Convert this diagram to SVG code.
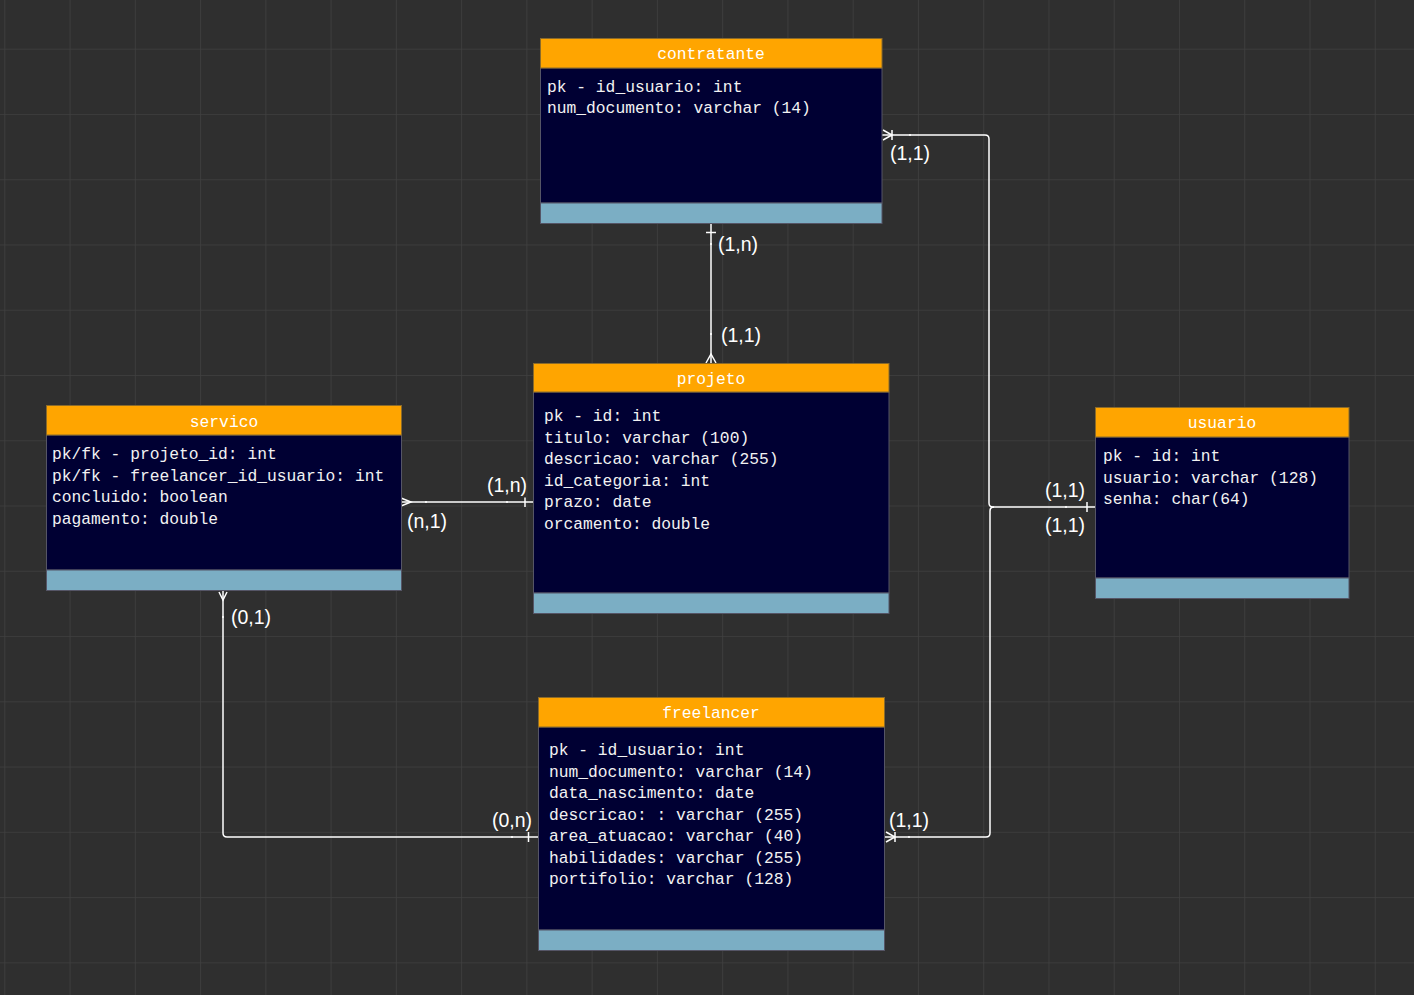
<svg xmlns="http://www.w3.org/2000/svg" width="1414" height="995" viewBox="0 0 1414 995">
<defs>
<pattern id="grid" x="4.3" y="48.7" width="65.26" height="65.26" patternUnits="userSpaceOnUse">
<path d="M0 0 H65.26 M0 0 V65.26" stroke="#404040" stroke-width="1.6" fill="none"/>
</pattern>
</defs>
<style>
.hd{fill:#FFA500;stroke:#8a6a2a;stroke-width:1}
.bd{fill:#000033;stroke:#555566;stroke-width:1}
.ft{fill:#7BAEC4;stroke:#555566;stroke-width:1}
.tt{font-family:"Liberation Mono","DejaVu Sans Mono",monospace;font-size:16.3px;fill:#ffffff;text-anchor:middle}
.at{font-family:"Liberation Mono","DejaVu Sans Mono",monospace;font-size:16.3px;fill:#f2f2f2}
.ln{fill:none;stroke:#ffffff;stroke-width:1.5}
.lb{font-family:"Liberation Sans","Noto Sans",sans-serif;font-size:19.5px;fill:#ffffff}
.dot{fill:#ffffff}
</style>
<rect width="1414" height="995" fill="#2f2f2f"/>
<rect width="1414" height="995" fill="url(#grid)"/>

<g id="connectors">
<!-- contratante - usuario -->
<path class="ln" d="M882 135 H985 Q989 135 989 139 V503 Q989 507 993 507 H1095"/>
<path class="ln" d="M883 130 L892 135 L883 140 M892 130 V140"/>
<rect class="dot" x="909" y="134.2" width="2" height="1.6"/>
<!-- freelancer - usuario -->
<path class="ln" d="M885 837 H986 Q990 837 990 833 V511 Q990 507 994 507"/>
<path class="ln" d="M886 832 L895 837 L886 842 M895 832 V842"/>
<rect class="dot" x="908" y="836.2" width="2" height="1.6"/>
<path class="ln" d="M1087 502 V512"/>
<rect class="dot" x="1065" y="506.2" width="2" height="1.6"/>
<!-- contratante - projeto -->
<path class="ln" d="M711 223 V363"/>
<path class="ln" d="M706 232.5 H716"/>
<path class="ln" d="M706 363 L711 354 L716 363"/>
<rect class="dot" x="710.2" y="243" width="1.6" height="2"/>
<rect class="dot" x="710.2" y="333" width="1.6" height="2"/>
<!-- servico - projeto -->
<path class="ln" d="M401 502 H533"/>
<path class="ln" d="M401 498 L411 502 L401 506"/>
<path class="ln" d="M525 497.5 V507"/>
<rect class="dot" x="425" y="501.2" width="2" height="1.6"/>
<rect class="dot" x="506" y="501.2" width="2" height="1.6"/>
<!-- servico - freelancer -->
<path class="ln" d="M223 591 V833 Q223 837 227 837 H538"/>
<path class="ln" d="M219 592 L223 600 L227 592"/>
<path class="ln" d="M528.5 832 V842"/>
<rect class="dot" x="222.2" y="616" width="1.6" height="2"/>
<rect class="dot" x="511" y="836.2" width="2" height="1.6"/>
<!-- labels -->
<text class="lb" x="890" y="160">(1,1)</text>
<text class="lb" x="718" y="251">(1,n)</text>
<text class="lb" x="721" y="342">(1,1)</text>
<text class="lb" x="487" y="492">(1,n)</text>
<text class="lb" x="407" y="528">(n,1)</text>
<text class="lb" x="1045" y="497">(1,1)</text>
<text class="lb" x="1045" y="532">(1,1)</text>
<text class="lb" x="231" y="624">(0,1)</text>
<text class="lb" x="492" y="827">(0,n)</text>
<text class="lb" x="889" y="827">(1,1)</text>
</g>

<g id="contratante">
<rect class="bd" x="540.5" y="68" width="341.5" height="135"/>
<rect class="hd" x="540.5" y="38.5" width="341.5" height="29.5"/>
<rect class="ft" x="540.5" y="203" width="341.5" height="20.5"/>
<text class="tt" x="711" y="59">contratante</text>
<text class="at" x="547" y="92">pk - id_usuario: int</text>
<text class="at" x="547" y="113">num_documento: varchar (14)</text>
</g>

<g id="projeto">
<rect class="bd" x="533.5" y="392" width="355.5" height="201"/>
<rect class="hd" x="533.5" y="363.5" width="355.5" height="28.5"/>
<rect class="ft" x="533.5" y="593" width="355.5" height="20.5"/>
<text class="tt" x="711" y="384">projeto</text>
<text class="at" x="544" y="421">pk - id: int</text>
<text class="at" x="544" y="442.5">titulo: varchar (100)</text>
<text class="at" x="544" y="464">descricao: varchar (255)</text>
<text class="at" x="544" y="485.5">id_categoria: int</text>
<text class="at" x="544" y="507">prazo: date</text>
<text class="at" x="544" y="528.5">orcamento: double</text>
</g>

<g id="servico">
<rect class="bd" x="46.5" y="435" width="355" height="135"/>
<rect class="hd" x="46.5" y="405.5" width="355" height="29.5"/>
<rect class="ft" x="46.5" y="570" width="355" height="20.5"/>
<text class="tt" x="224" y="427">servico</text>
<text class="at" x="52" y="459">pk/fk - projeto_id: int</text>
<text class="at" x="52" y="480.5">pk/fk - freelancer_id_usuario: int</text>
<text class="at" x="52" y="502">concluido: boolean</text>
<text class="at" x="52" y="523.5">pagamento: double</text>
</g>

<g id="usuario">
<rect class="bd" x="1095.5" y="437" width="253.5" height="141"/>
<rect class="hd" x="1095.5" y="407.5" width="253.5" height="29.5"/>
<rect class="ft" x="1095.5" y="578" width="253.5" height="20.5"/>
<text class="tt" x="1222" y="428">usuario</text>
<text class="at" x="1103" y="461">pk - id: int</text>
<text class="at" x="1103" y="482.5">usuario: varchar (128)</text>
<text class="at" x="1103" y="504">senha: char(64)</text>
</g>

<g id="freelancer">
<rect class="bd" x="538.5" y="727" width="346" height="203"/>
<rect class="hd" x="538.5" y="697.5" width="346" height="29.5"/>
<rect class="ft" x="538.5" y="930" width="346" height="20.5"/>
<text class="tt" x="711" y="718">freelancer</text>
<text class="at" x="549" y="755">pk - id_usuario: int</text>
<text class="at" x="549" y="776.5">num_documento: varchar (14)</text>
<text class="at" x="549" y="798">data_nascimento: date</text>
<text class="at" x="549" y="819.5">descricao: : varchar (255)</text>
<text class="at" x="549" y="841">area_atuacao: varchar (40)</text>
<text class="at" x="549" y="862.5">habilidades: varchar (255)</text>
<text class="at" x="549" y="884">portifolio: varchar (128)</text>
</g>
</svg>
